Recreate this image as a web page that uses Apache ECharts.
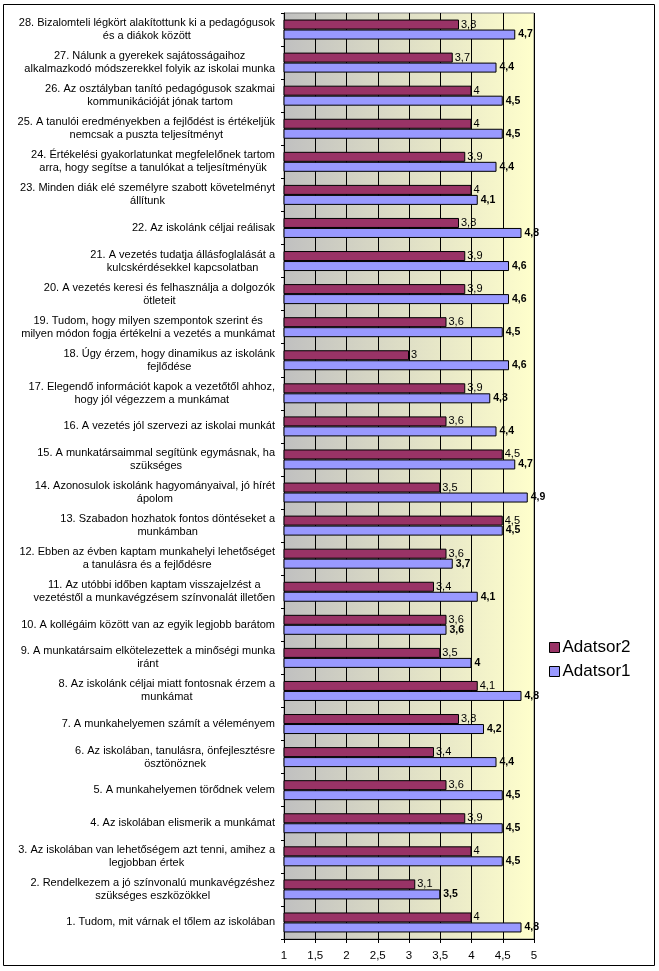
<!DOCTYPE html>
<html>
<head>
<meta charset="utf-8">
<script src="https://cdn.jsdelivr.net/npm/echarts@6/dist/echarts.min.js"></script>
<style>html,body{margin:0;padding:0;background:#fff}#c{width:659px;height:971px}</style>
</head>
<body>
<div id="c"></div>
<script>
// Categories listed from item 1 (bottom) to item 28 (top)
var categories = [
  "1. Tudom, mit várnak el tőlem az iskolában",
  "2. Rendelkezem a jó színvonalú munkavégzéshez\nszükséges eszközökkel",
  "3. Az iskolában van lehetőségem azt tenni, amihez a\nlegjobban értek",
  "4. Az iskolában elismerik a munkámat",
  "5. A munkahelyemen törődnek velem",
  "6. Az iskolában, tanulásra, önfejlesztésre\nösztönöznek",
  "7. A munkahelyemen számít a véleményem",
  "8. Az iskolánk céljai miatt fontosnak érzem a\nmunkámat",
  "9. A munkatársaim elkötelezettek a minőségi munka\niránt",
  "10. A kollégáim között van az egyik legjobb barátom",
  "11. Az utóbbi időben kaptam visszajelzést a\nvezetéstől a munkavégzésem színvonalát illetően",
  "12. Ebben az évben kaptam munkahelyi lehetőséget\na tanulásra és a fejlődésre",
  "13. Szabadon hozhatok fontos döntéseket a\nmunkámban",
  "14. Azonosulok iskolánk hagyományaival, jó hírét\nápolom",
  "15. A munkatársaimmal segítünk egymásnak, ha\nszükséges",
  "16. A vezetés jól szervezi az iskolai munkát",
  "17. Elegendő információt kapok a vezetőtől ahhoz,\nhogy jól végezzem a munkámat",
  "18. Úgy érzem, hogy dinamikus az iskolánk\nfejlődése",
  "19. Tudom, hogy milyen szempontok szerint és\nmilyen módon fogja értékelni a vezetés a munkámat",
  "20. A vezetés keresi és felhasználja a dolgozók\nötleteit",
  "21. A vezetés tudatja állásfoglalását a\nkulcskérdésekkel kapcsolatban",
  "22. Az iskolánk céljai reálisak",
  "23. Minden diák elé személyre szabott követelményt\nállítunk",
  "24. Értékelési gyakorlatunkat megfelelőnek tartom\narra, hogy segítse a tanulókat a teljesítményük",
  "25. A tanulói eredményekben a fejlődést is értékeljük\nnemcsak a puszta teljesítményt",
  "26. Az osztályban tanító pedagógusok szakmai\nkommunikációját jónak tartom",
  "27. Nálunk a gyerekek sajátosságaihoz\nalkalmazkodó módszerekkel folyik az iskolai munka",
  "28. Bizalomteli légkört alakítottunk ki a pedagógusok\nés a diákok között"
];
var adatsor2 = [4, 3.1, 4, 3.9, 3.6, 3.4, 3.8, 4.1, 3.5, 3.6, 3.4, 3.6, 4.5, 3.5, 4.5, 3.6, 3.9, 3, 3.6, 3.9, 3.9, 3.8, 4, 3.9, 4, 4, 3.7, 3.8];
var adatsor1 = [4.8, 3.5, 4.5, 4.5, 4.5, 4.4, 4.2, 4.8, 4, 3.6, 4.1, 3.7, 4.5, 4.9, 4.7, 4.4, 4.3, 4.6, 4.5, 4.6, 4.6, 4.8, 4.1, 4.4, 4.5, 4.5, 4.4, 4.7];
var seriesNames = ["Adatsor2", "Adatsor1"];
var xTicks = {min: 1, max: 5, step: 0.5};

var FONT = "'Liberation Sans', Arial, sans-serif";
function comma(v) { return String(v).replace('.', ','); }

var chart = echarts.init(document.getElementById('c'), null, {renderer: 'canvas'});
chart.setOption({
  animation: false,
  backgroundColor: '#ffffff',
  textStyle: {fontFamily: FONT},
  graphic: [{
    type: 'rect', silent: true, z: 100,
    shape: {x: 3.5, y: 4.5, width: 651, height: 961},
    style: {fill: 'none', stroke: '#000', lineWidth: 1}
  }],
  legend: {
    data: [seriesNames[0], seriesNames[1]],
    orient: 'vertical',
    left: 544, top: 634,
    itemWidth: 10, itemHeight: 10, itemGap: 7,
    icon: 'rect',
    textStyle: {fontSize: 17, color: '#000', fontFamily: FONT, padding: [0, 0, 0, -2]},
    itemStyle: {borderColor: '#000', borderWidth: 1}
  },
  grid: {
    left: 284, right: 125, top: 13, bottom: 32,
    show: true,
    borderColor: '#808080', borderWidth: 1,
    backgroundColor: new echarts.graphic.LinearGradient(0, 0, 1, 0, [
      {offset: 0, color: '#c0c0c0'},
      {offset: 1, color: '#ffffcc'}
    ])
  },
  xAxis: {
    type: 'value',
    min: xTicks.min, max: xTicks.max, interval: xTicks.step,
    axisLine: {show: true, lineStyle: {color: '#000'}},
    axisTick: {show: true, length: 4, lineStyle: {color: '#000'}},
    splitLine: {show: true, lineStyle: {color: '#000', width: 1}},
    axisLabel: {color: '#000', fontSize: 11.5, margin: 11, formatter: function (v) { return comma(v); }}
  },
  yAxis: {
    type: 'category',
    data: categories,
    axisLine: {show: true, lineStyle: {color: '#000'}},
    axisTick: {show: true, length: 3, lineStyle: {color: '#000'}},
    axisLabel: {
      interval: 0, margin: 9, color: '#000',
      formatter: function (v) {
        return v.split('\n').map(function (l) { return '{c|' + l + '}'; }).join('\n');
      },
      rich: {c: {align: 'center', fontSize: 11, lineHeight: 13, color: '#000', fontFamily: FONT}}
    }
  },
  series: [{
    name: seriesNames[0],
    type: 'bar',
    data: adatsor2,
    barWidth: 10,
    barGap: '0%',
    itemStyle: {color: '#993366', borderColor: '#000', borderWidth: 1},
    label: {show: true, position: 'right', distance: 2, color: '#000', fontSize: 11,
      formatter: function (p) { return comma(p.value); }}
  }, {
    name: seriesNames[1],
    type: 'bar',
    data: adatsor1,
    barWidth: 10,
    barGap: '0%',
    itemStyle: {color: '#9999ff', borderColor: '#000', borderWidth: 1},
    label: {show: true, position: 'right', distance: 3, color: '#000', fontSize: 10.5, fontWeight: 'bold',
      formatter: function (p) { return comma(p.value); }}
  }]
});
</script>
</body>
</html>
